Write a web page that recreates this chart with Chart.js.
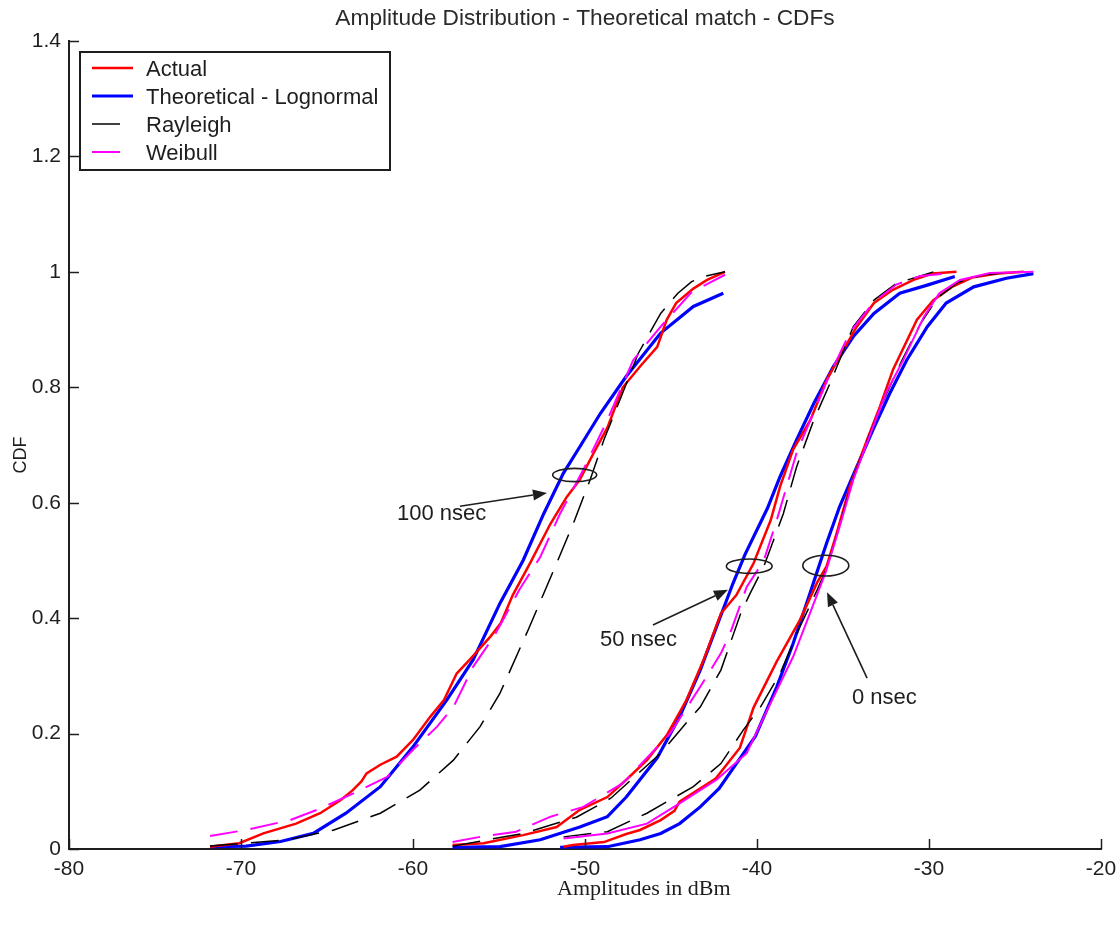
<!DOCTYPE html>
<html>
<head>
<meta charset="utf-8">
<title>Amplitude Distribution - Theoretical match - CDFs</title>
<script src="https://cdn.jsdelivr.net/npm/chart.js@4.4.1/dist/chart.umd.min.js"></script>
<style>
  html, body { margin: 0; padding: 0; background: #ffffff; }
  #cdf { display: block; }
</style>
</head>
<body>
<canvas id="cdf" width="1117" height="926"></canvas>
<script>
// ---- data: [amplitude (dBm), CDF] ----
const seriesNames = ['Actual', 'Theoretical - Lognormal', 'Rayleigh', 'Weibull'];
const delayLabels = ['100 nsec', '50 nsec', '0 nsec'];
const xTicks = [-80, -70, -60, -50, -40, -30, -20];
const yTicks = [0, 0.2, 0.4, 0.6, 0.8, 1, 1.2, 1.4];

// 100 nsec delay
const actual100 = [[-71.8,0.004],[-70.1,0.01],[-68.7,0.027],[-66.8,0.044],[-65.4,0.062],[-64.2,0.085],[-63.5,0.102],[-63.0,0.117],[-62.7,0.131],[-61.9,0.146],[-60.95,0.16],[-60.0,0.189],[-59.0,0.229],[-58.2,0.258],[-57.46,0.304],[-56.7,0.328],[-55.5,0.368],[-54.9,0.391],[-54.2,0.44],[-53.2,0.495],[-52.0,0.564],[-51.06,0.61],[-50.3,0.64],[-49.5,0.686],[-48.7,0.73],[-47.8,0.8],[-46.8,0.836],[-45.8,0.87],[-45.25,0.917],[-44.7,0.946],[-43.7,0.971],[-42.9,0.986],[-41.86,1.0]];
const lognormal100 = [[-71.8,0.004],[-69.7,0.005],[-67.7,0.013],[-65.8,0.027],[-63.9,0.062],[-61.9,0.108],[-60.0,0.177],[-58.04,0.258],[-56.5,0.328],[-54.94,0.426],[-53.6,0.5],[-52.4,0.581],[-51.26,0.651],[-50.3,0.697],[-49.1,0.755],[-47.6,0.819],[-45.6,0.894],[-43.7,0.94],[-41.96,0.963]];
const rayleigh100 = [[-71.8,0.005],[-67.3,0.016],[-64.6,0.033],[-61.9,0.062],[-59.6,0.102],[-57.65,0.154],[-56.1,0.212],[-54.94,0.27],[-53.3,0.38],[-51.65,0.495],[-50.6,0.57],[-49.7,0.64],[-48.9,0.709],[-47.97,0.778],[-46.9,0.859],[-45.6,0.928],[-44.6,0.963],[-43.8,0.983],[-43.1,0.992],[-41.86,1.0]];
const weibull100 = [[-71.8,0.0225],[-69.7,0.033],[-67.15,0.05],[-65.4,0.07],[-63.5,0.096],[-61.5,0.125],[-60.0,0.172],[-58.6,0.212],[-57.65,0.246],[-56.5,0.316],[-55.3,0.368],[-53.8,0.45],[-52.6,0.506],[-51.45,0.581],[-50.1,0.657],[-48.7,0.743],[-47.2,0.847],[-45.6,0.905],[-43.8,0.965],[-41.86,0.995]];

// 50 nsec delay
const actual50 = [[-57.7,0.007],[-55.9,0.01],[-53.6,0.024],[-51.65,0.038],[-50.3,0.068],[-48.7,0.09],[-47.6,0.12],[-46.4,0.154],[-45.25,0.197],[-44.1,0.258],[-43.1,0.328],[-42.1,0.408],[-41.2,0.44],[-40.2,0.495],[-39.2,0.57],[-38.66,0.628],[-37.9,0.692],[-36.9,0.743],[-35.95,0.813],[-35.2,0.853],[-34.2,0.905],[-33.2,0.946],[-32.1,0.969],[-30.9,0.986],[-29.8,0.997],[-28.4,1.0]];
const lognormal50 = [[-57.7,0.003],[-54.94,0.004],[-52.6,0.016],[-50.3,0.038],[-48.7,0.056],[-47.6,0.09],[-45.8,0.158],[-44.5,0.229],[-43.3,0.31],[-42.35,0.385],[-41.4,0.46],[-40.7,0.51],[-39.4,0.59],[-38.66,0.645],[-37.7,0.709],[-36.7,0.772],[-35.56,0.836],[-34.4,0.888],[-33.2,0.928],[-31.7,0.963],[-30.1,0.977],[-28.5,0.992]];
const rayleigh50 = [[-57.7,0.005],[-53.6,0.027],[-50.5,0.055],[-48.5,0.088],[-45.6,0.166],[-44.3,0.212],[-43.3,0.246],[-42.1,0.31],[-40.95,0.408],[-40.4,0.443],[-39.6,0.49],[-38.47,0.581],[-37.7,0.662],[-36.7,0.743],[-35.75,0.807],[-34.4,0.905],[-33.2,0.951],[-31.9,0.98],[-29.75,1.0]];
const weibull50 = [[-57.7,0.012],[-56.1,0.021],[-54.0,0.03],[-52.0,0.056],[-50.1,0.073],[-47.8,0.114],[-45.06,0.2],[-43.3,0.281],[-42.1,0.339],[-41.57,0.373],[-40.6,0.454],[-39.6,0.5],[-38.85,0.57],[-37.7,0.686],[-36.8,0.75],[-35.8,0.82],[-34.6,0.895],[-33.2,0.948],[-31.9,0.978],[-30.5,0.993],[-28.5,0.998]];

// 0 nsec delay
const actual0 = [[-51.25,0.004],[-50.7,0.007],[-48.9,0.012],[-47.6,0.026],[-46.8,0.033],[-45.6,0.05],[-44.8,0.066],[-44.5,0.082],[-42.4,0.122],[-41.0,0.175],[-40.2,0.245],[-38.85,0.325],[-37.5,0.397],[-36.5,0.462],[-35.95,0.49],[-35.37,0.547],[-34.6,0.628],[-33.6,0.709],[-32.85,0.767],[-32.1,0.83],[-30.7,0.917],[-29.75,0.951],[-28.6,0.975],[-27.5,0.99],[-26.0,0.997],[-24.5,1.0]];
const lognormal0 = [[-51.45,0.003],[-48.7,0.004],[-46.8,0.016],[-45.6,0.027],[-44.5,0.044],[-43.3,0.073],[-42.2,0.105],[-41.2,0.148],[-40.1,0.195],[-38.85,0.281],[-37.9,0.356],[-36.9,0.445],[-36.4,0.49],[-35.95,0.53],[-35.2,0.593],[-34.2,0.662],[-33.2,0.73],[-32.27,0.79],[-31.3,0.847],[-30.1,0.905],[-29.0,0.946],[-27.4,0.974],[-25.5,0.989],[-23.93,0.997]];
const rayleigh0 = [[-51.25,0.021],[-48.7,0.03],[-46.4,0.062],[-43.7,0.108],[-42.1,0.148],[-40.8,0.206],[-39.8,0.246],[-38.66,0.304],[-37.5,0.385],[-36.5,0.449],[-35.9,0.49],[-35.3,0.55],[-34.5,0.635],[-33.5,0.715],[-32.6,0.78],[-31.6,0.845],[-30.5,0.91],[-29.5,0.955],[-28.3,0.982],[-26.8,0.995],[-25.0,1.0]];
const weibull0 = [[-51.25,0.018],[-48.7,0.027],[-46.4,0.044],[-44.5,0.079],[-42.35,0.12],[-40.6,0.166],[-39.5,0.235],[-37.9,0.333],[-36.9,0.41],[-36.0,0.48],[-35.2,0.558],[-34.4,0.64],[-33.4,0.72],[-32.5,0.79],[-31.5,0.847],[-30.3,0.922],[-29.4,0.963],[-28.2,0.986],[-26.45,0.998],[-23.93,1.0]];

// curves grouped by delay, in the order of seriesNames
const groups = [
  [actual100, lognormal100, rayleigh100, weibull100],
  [actual50, lognormal50, rayleigh50, weibull50],
  [actual0, lognormal0, rayleigh0, weibull0]
];

// ---- styling ----
const FONT = "'Liberation Sans', Arial, Helvetica, sans-serif";
const INK = '#1e1e1e';
const seriesStyle = [
  { color: '#ff0000', width: 2.5, dash: [],       order: 2 },
  { color: '#0000ff', width: 3.2, dash: [],       order: 3 },
  { color: '#000000', width: 1.5, dash: [28, 13], order: 1 },
  { color: '#ff00ff', width: 2,   dash: [28, 13], order: 0 }
];

// callout marks (data coordinates)
const ellipses = [
  { x: -50.6,  y: 0.648, rx: 1.28, ry: 0.0115 },
  { x: -40.45, y: 0.490, rx: 1.33, ry: 0.0125 },
  { x: -36.0,  y: 0.491, rx: 1.34, ry: 0.018 }
];
const arrows = [
  { from: [-57.27, 0.594], to: [-52.21, 0.617] },
  { from: [-46.05, 0.388], to: [-41.69, 0.449] },
  { from: [-33.6, 0.296],  to: [-35.93, 0.445] }
];
const calloutPos = [[-60.93, 0.581], [-49.13, 0.362], [-34.48, 0.262]];

const datasets = [];
groups.forEach((curves, g) => {
  curves.forEach((pts, s) => {
    const st = seriesStyle[s];
    // the 0 nsec Weibull fit is drawn as a continuous line
    const dash = (g === 2 && s === 3) ? [] : st.dash;
    datasets.push({
      label: seriesNames[s] + ' (' + delayLabels[g] + ')',
      data: pts.map(p => ({ x: p[0], y: p[1] })),
      borderColor: st.color,
      backgroundColor: st.color,
      borderWidth: st.width,
      borderDash: dash,
      order: st.order,
      showLine: true,
      fill: false,
      tension: 0,
      pointRadius: 0,
      pointHoverRadius: 0
    });
  });
});

// annotations, inward tick marks, legend box and axis captions
const overlay = {
  id: 'overlay',
  afterDatasetsDraw(chart) {
    const { ctx, chartArea: ca, scales: { x, y } } = chart;
    ctx.save();

    // inward tick marks
    ctx.strokeStyle = INK;
    ctx.lineWidth = 1.5;
    ctx.setLineDash([]);
    xTicks.forEach(v => {
      const px = Math.round(x.getPixelForValue(v)) + 0.5;
      ctx.beginPath(); ctx.moveTo(px, ca.bottom); ctx.lineTo(px, ca.bottom - 10); ctx.stroke();
    });
    yTicks.forEach(v => {
      const py = Math.round(y.getPixelForValue(v)) + 0.5;
      ctx.beginPath(); ctx.moveTo(ca.left, py); ctx.lineTo(ca.left + 10, py); ctx.stroke();
    });

    // ellipses around the crossing points
    ctx.lineWidth = 1.6;
    ellipses.forEach(e => {
      const cx = x.getPixelForValue(e.x), cy = y.getPixelForValue(e.y);
      const rx = Math.abs(x.getPixelForValue(e.x + e.rx) - cx);
      const ry = Math.abs(y.getPixelForValue(e.y + e.ry) - cy);
      ctx.beginPath(); ctx.ellipse(cx, cy, rx, ry, 0, 0, Math.PI * 2); ctx.stroke();
    });

    // arrows
    arrows.forEach(a => {
      const x0 = x.getPixelForValue(a.from[0]), y0 = y.getPixelForValue(a.from[1]);
      const x1 = x.getPixelForValue(a.to[0]),   y1 = y.getPixelForValue(a.to[1]);
      const ang = Math.atan2(y1 - y0, x1 - x0);
      const hl = 14, hw = 5.5;
      const bx = x1 - hl * Math.cos(ang), by = y1 - hl * Math.sin(ang);
      ctx.beginPath(); ctx.moveTo(x0, y0); ctx.lineTo(bx, by); ctx.stroke();
      ctx.fillStyle = INK;
      ctx.beginPath();
      ctx.moveTo(x1, y1);
      ctx.lineTo(bx + hw * Math.sin(ang), by - hw * Math.cos(ang));
      ctx.lineTo(bx - hw * Math.sin(ang), by + hw * Math.cos(ang));
      ctx.closePath(); ctx.fill();
    });

    // delay labels
    ctx.fillStyle = INK;
    ctx.font = '22px ' + FONT;
    ctx.textAlign = 'left';
    ctx.textBaseline = 'middle';
    calloutPos.forEach((p, i) => {
      ctx.fillText(delayLabels[i], x.getPixelForValue(p[0]), y.getPixelForValue(p[1]));
    });

    // legend
    const lx = ca.left + 11, ly = ca.top + 11, lw = 310, lh = 118;
    ctx.fillStyle = '#ffffff';
    ctx.fillRect(lx, ly, lw, lh);
    ctx.strokeStyle = INK;
    ctx.lineWidth = 2;
    ctx.strokeRect(lx, ly, lw, lh);
    seriesNames.forEach((name, i) => {
      const st = seriesStyle[i];
      const rowY = ly + 17 + i * 28;
      ctx.strokeStyle = st.color;
      ctx.lineWidth = st.width;
      ctx.setLineDash(st.dash);
      const len = st.dash.length ? 31 : 41;
      ctx.beginPath(); ctx.moveTo(lx + 12, rowY - 1); ctx.lineTo(lx + 12 + len, rowY - 1); ctx.stroke();
      ctx.setLineDash([]);
      ctx.fillStyle = INK;
      ctx.font = '22px ' + FONT;
      ctx.textAlign = 'left';
      ctx.textBaseline = 'middle';
      ctx.fillText(name, lx + 66, rowY + 1);
    });

    ctx.restore();
  },
  afterDraw(chart) {
    const { ctx, chartArea: ca } = chart;
    ctx.save();
    ctx.fillStyle = '#2a2a2a';
    // title
    ctx.font = '22.7px ' + FONT;
    ctx.textAlign = 'center';
    ctx.textBaseline = 'middle';
    ctx.fillText('Amplitude Distribution - Theoretical match - CDFs', (ca.left + ca.right) / 2, 19);
    // x axis caption
    ctx.fillStyle = INK;
    ctx.font = "22px 'Liberation Serif', 'Times New Roman', serif";
    ctx.fillText('Amplitudes in dBm', ca.left + (ca.right - ca.left) * 0.557, ca.bottom + 40);
    // y axis caption
    ctx.font = '18px ' + FONT;
    ctx.translate(21, ca.top + 414);
    ctx.rotate(-Math.PI / 2);
    ctx.fillText('CDF', 0, 0);
    ctx.restore();
  }
};

Chart.defaults.font.family = FONT;
Chart.defaults.color = INK;

new Chart(document.getElementById('cdf'), {
  type: 'scatter',
  data: { datasets },
  options: {
    responsive: false,
    animation: false,
    events: [],
    layout: { padding: { top: 41, right: 16, bottom: 0, left: 0 } },
    plugins: {
      legend: { display: false },
      title: { display: false },
      tooltip: { enabled: false }
    },
    scales: {
      x: {
        type: 'linear',
        min: xTicks[0],
        max: xTicks[xTicks.length - 1],
        afterBuildTicks: s => { s.ticks = xTicks.map(v => ({ value: v })); },
        afterFit: s => { s.height = 77; s.paddingLeft = 0; s.paddingRight = 0; },
        grid: { display: false, drawTicks: false },
        border: { display: true, color: INK, width: 2 },
        ticks: { font: { size: 21 }, color: INK, padding: 8, maxRotation: 0, autoSkip: false }
      },
      y: {
        type: 'linear',
        min: yTicks[0],
        max: yTicks[yTicks.length - 1],
        afterBuildTicks: s => { s.ticks = yTicks.map(v => ({ value: v })); },
        afterFit: s => { s.width = 69; s.paddingTop = 0; s.paddingBottom = 0; },
        grid: { display: false, drawTicks: false },
        border: { display: true, color: INK, width: 2 },
        ticks: { font: { size: 21 }, color: INK, padding: 8, autoSkip: false,
                 callback: v => String(Math.round(v * 10) / 10) }
      }
    }
  },
  plugins: [overlay]
});
</script>
</body>
</html>
